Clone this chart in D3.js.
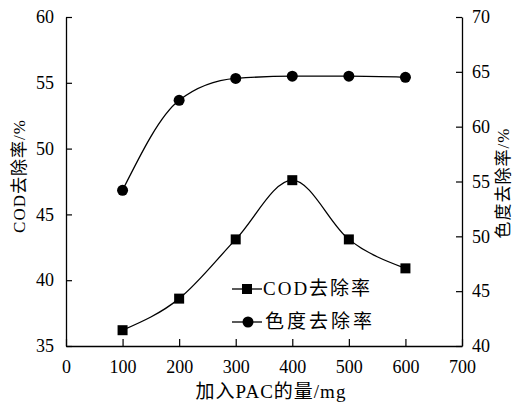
<!DOCTYPE html>
<html>
<head>
<meta charset="utf-8">
<script src="https://cdn.jsdelivr.net/npm/d3@7"></script>
<style>
  body { margin: 0; background: #fff; }
  svg text { font-family: "Times New Roman", "Liberation Serif", "DejaVu Serif", "Noto Sans CJK SC", serif; fill: #000; }
</style>
</head>
<body>
<div id="chart"></div>
<script>
// chart data
const doses = [100, 200, 300, 400, 500, 600];
const codRemoval = [36.2, 38.6, 43.1, 47.6, 43.1, 40.9];
const colorRemoval = [54.2, 62.4, 64.4, 64.6, 64.6, 64.5];
const xTicks = [0, 100, 200, 300, 400, 500, 600, 700];
const yLeftTicks = [35, 40, 45, 50, 55, 60];
const yRightTicks = [40, 45, 50, 55, 60, 65, 70];

const WIDTH = 516;
const HEIGHT = 403;
const MARGIN = { top: 17, right: 54, bottom: 57, left: 66 };

const svg = d3
  .select("#chart")
  .append("svg")
  .attr("width", WIDTH)
  .attr("height", HEIGHT);

const x = d3.scaleLinear().domain([0, 700]).range([MARGIN.left, WIDTH - MARGIN.right]);
const yL = d3.scaleLinear().domain([35, 60]).range([HEIGHT - MARGIN.bottom, MARGIN.top]);
const yR = d3.scaleLinear().domain([40, 70]).range([HEIGHT - MARGIN.bottom, MARGIN.top]);

// axes (ticks point inward)
const styleAxis = (g) => {
  g.attr("font-family", null);
  g.select(".domain").attr("stroke", "#000").attr("stroke-width", 1.3);
  g.selectAll(".tick line").attr("stroke", "#000").attr("stroke-width", 1.2);
  g.selectAll(".tick text").attr("font-size", 18);
};

svg
  .append("g")
  .attr("transform", `translate(0,${HEIGHT - MARGIN.bottom})`)
  .call(d3.axisBottom(x).tickValues(xTicks).tickSizeInner(-7).tickSizeOuter(0).tickPadding(14))
  .call(styleAxis);

svg
  .append("g")
  .attr("transform", `translate(${MARGIN.left},0)`)
  .call(d3.axisLeft(yL).tickValues(yLeftTicks).tickSizeInner(-6).tickSizeOuter(0).tickPadding(12))
  .call(styleAxis);

svg
  .append("g")
  .attr("transform", `translate(${WIDTH - MARGIN.right},0)`)
  .call(d3.axisRight(yR).tickValues(yRightTicks).tickSizeInner(-6).tickSizeOuter(0).tickPadding(10))
  .call(styleAxis);

// axis titles
svg
  .append("text")
  .attr("x", 271)
  .attr("y", 398)
  .attr("text-anchor", "middle")
  .attr("font-size", 19)
  .attr("letter-spacing", 1)
  .text("加入PAC的量/mg");

svg
  .append("text")
  .attr("transform", "translate(25,176) rotate(-90)")
  .attr("text-anchor", "middle")
  .attr("font-size", 17)
  .attr("letter-spacing", 1)
  .text("COD去除率/%");

svg
  .append("text")
  .attr("transform", "translate(509,183) rotate(-90)")
  .attr("text-anchor", "middle")
  .attr("font-size", 17)
  .attr("letter-spacing", 1)
  .text("色度去除率/%");

// lines
const codLine = d3
  .line()
  .x((d, i) => x(doses[i]))
  .y((d) => yL(d))
  .curve(d3.curveMonotoneX);
const colorLine = d3
  .line()
  .x((d, i) => x(doses[i]))
  .y((d) => yR(d))
  .curve(d3.curveMonotoneX);

svg
  .append("path")
  .attr("d", codLine(codRemoval))
  .attr("fill", "none")
  .attr("stroke", "#000")
  .attr("stroke-width", 1.3);

svg
  .append("path")
  .attr("d", colorLine(colorRemoval))
  .attr("fill", "none")
  .attr("stroke", "#000")
  .attr("stroke-width", 1.3);

// markers
svg
  .selectAll("rect.cod")
  .data(codRemoval)
  .join("rect")
  .attr("class", "cod")
  .attr("x", (d, i) => x(doses[i]) - 5)
  .attr("y", (d) => yL(d) - 5)
  .attr("width", 10)
  .attr("height", 10)
  .attr("fill", "#000");

svg
  .selectAll("circle.color")
  .data(colorRemoval)
  .join("circle")
  .attr("class", "color")
  .attr("cx", (d, i) => x(doses[i]))
  .attr("cy", (d) => yR(d))
  .attr("r", 5.5)
  .attr("fill", "#000");

// legend
const legend = svg.append("g").attr("transform", "translate(232,289)");
legend
  .append("line")
  .attr("x1", 0)
  .attr("x2", 30)
  .attr("stroke", "#000")
  .attr("stroke-width", 1.3);
legend.append("rect").attr("x", 10).attr("y", -5).attr("width", 10).attr("height", 10).attr("fill", "#000");
legend
  .append("text")
  .attr("x", 31)
  .attr("y", 6)
  .attr("font-size", 19)
  .attr("letter-spacing", 2)
  .text("COD去除率");

legend
  .append("line")
  .attr("x1", 0)
  .attr("x2", 30)
  .attr("y1", 33)
  .attr("y2", 33)
  .attr("stroke", "#000")
  .attr("stroke-width", 1.3);
legend.append("circle").attr("cx", 16).attr("cy", 33).attr("r", 5.5).attr("fill", "#000");
legend
  .append("text")
  .attr("x", 33)
  .attr("y", 39)
  .attr("font-size", 19)
  .attr("letter-spacing", 3)
  .text("色度去除率");
</script>
</body>
</html>
